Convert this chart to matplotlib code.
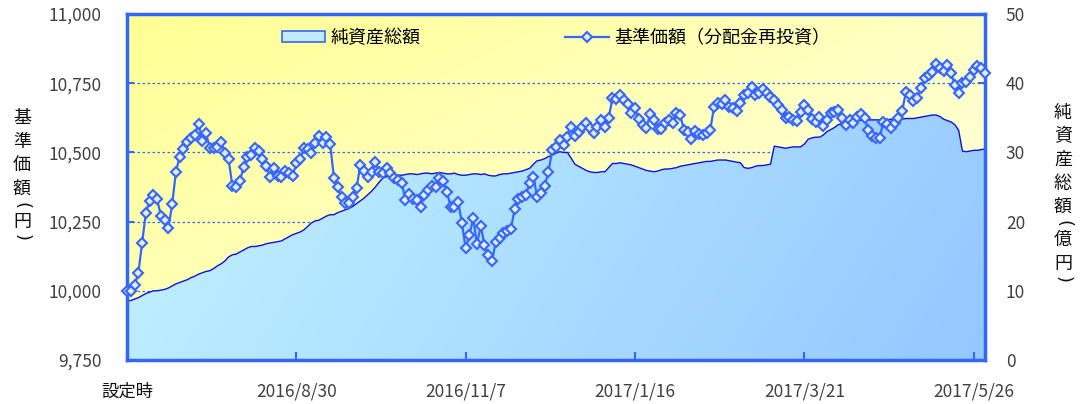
import numpy as np
import matplotlib
matplotlib.use("Agg")
import matplotlib.pyplot as plt
from matplotlib.lines import Line2D
from matplotlib.patches import Patch

plt.rcParams['font.family'] = ['Noto Sans CJK JP', 'DejaVu Sans']

# 基準価額（分配金再投資）, 円
kijun = [
    10000, 10000, 10021, 10063, 10172, 10280, 10326, 10346, 10331, 10270,
    10256, 10228, 10312, 10430, 10485, 10511, 10539, 10551, 10563, 10603,
    10542, 10569, 10515, 10515, 10520, 10539, 10497, 10475, 10379, 10374,
    10397, 10448, 10485, 10491, 10515, 10506, 10475, 10451, 10412, 10442,
    10415, 10410, 10434, 10427, 10415, 10461, 10475, 10515, 10511, 10497,
    10533, 10559, 10533, 10557, 10530, 10406, 10376, 10338, 10318, 10316,
    10338, 10370, 10455, 10434, 10410, 10430, 10464, 10430, 10424, 10442,
    10424, 10406, 10400, 10391, 10328, 10350, 10331, 10328, 10302, 10346,
    10364, 10379, 10374, 10406, 10398, 10358, 10304, 10304, 10322, 10244,
    10153, 10202, 10262, 10169, 10234, 10165, 10129, 10109, 10177, 10190,
    10210, 10217, 10222, 10295, 10331, 10338, 10346, 10391, 10412, 10338,
    10352, 10379, 10430, 10509, 10521, 10545, 10527, 10557, 10591, 10559,
    10575, 10593, 10605, 10587, 10571, 10591, 10617, 10593, 10625, 10695,
    10692, 10707, 10689, 10675, 10641, 10659, 10620, 10599, 10587, 10639,
    10617, 10583, 10583, 10605, 10617, 10605, 10641, 10635, 10581, 10575,
    10548, 10579, 10567, 10563, 10569, 10581, 10665, 10677, 10675, 10689,
    10665, 10659, 10651, 10677, 10707, 10716, 10735, 10707, 10716, 10730,
    10713, 10701, 10689, 10671, 10653, 10623, 10629, 10617, 10615, 10647,
    10671, 10653, 10620, 10611, 10629, 10595, 10617, 10641, 10647, 10653,
    10623, 10599, 10617, 10607, 10629, 10639, 10623, 10581, 10559, 10551,
    10553, 10611, 10603, 10587, 10607, 10623, 10651, 10719, 10707, 10687,
    10695, 10731, 10768, 10780, 10792, 10819, 10804, 10795, 10816, 10786,
    10744, 10716, 10750, 10756, 10774, 10798, 10812, 10804, 10788,
]

# 純資産総額, 億円
junshisan = [
    8.5, 8.6, 8.8, 9.0, 9.3, 9.6, 9.8, 10.0, 10.0, 10.1,
    10.2, 10.4, 10.7, 11.0, 11.2, 11.4, 11.6, 11.9, 12.1, 12.4,
    12.6, 12.8, 12.9, 13.2, 13.6, 13.9, 14.3, 14.9, 15.2, 15.3,
    15.6, 15.9, 16.2, 16.4, 16.4, 16.5, 16.6, 16.8, 16.9, 17.0,
    17.1, 17.2, 17.5, 17.8, 18.1, 18.3, 18.5, 18.8, 19.3, 19.8,
    20.1, 20.2, 20.5, 20.8, 21.0, 21.0, 21.3, 21.5, 21.7, 21.9,
    22.2, 22.6, 23.0, 23.4, 23.9, 24.4, 25.0, 25.7, 26.3, 26.5,
    26.7, 26.8, 26.7, 26.7, 26.8, 26.9, 26.9, 26.8, 26.9, 27.0,
    27.0, 26.9, 27.0, 27.1, 27.0, 26.9, 26.9, 27.0, 26.8, 26.7,
    26.7, 26.8, 26.9, 26.9, 26.8, 26.9, 26.7, 26.6, 26.6, 26.8,
    26.9, 26.9, 27.0, 27.1, 27.2, 27.3, 27.5, 27.7, 28.3, 28.8,
    28.9, 29.1, 29.4, 29.6, 29.9, 30.1, 30.0, 30.0, 29.2, 28.3,
    28.0, 27.7, 27.4, 27.2, 27.1, 27.1, 27.2, 27.2, 27.8, 28.4,
    28.4, 28.5, 28.4, 28.3, 28.2, 28.0, 27.8, 27.6, 27.4, 27.3,
    27.2, 27.3, 27.5, 27.6, 27.6, 27.7, 27.8, 28.0, 28.1, 28.2,
    28.3, 28.4, 28.5, 28.6, 28.7, 28.7, 28.8, 28.9, 28.9, 28.9,
    28.8, 28.7, 28.6, 28.5, 27.8, 27.7, 27.8, 28.0, 28.1, 28.1,
    28.2, 28.3, 30.9, 30.8, 30.7, 30.6, 30.7, 30.8, 30.8, 30.8,
    31.2, 31.9, 32.1, 32.2, 32.2, 32.5, 33.0, 33.3, 33.6, 34.0,
    34.2, 34.5, 34.7, 34.7, 34.7, 34.6, 34.7, 34.7, 34.7, 34.7,
    34.7, 34.7, 34.7, 34.8, 34.7, 34.8, 34.8, 34.9, 34.9, 34.9,
    35.0, 35.1, 35.2, 35.3, 35.4, 35.4, 35.2, 34.8, 34.6, 34.4,
    34.0, 33.2, 30.2, 30.1, 30.2, 30.3, 30.3, 30.4, 30.5,
]

tick_pos = [0, 45, 90, 135, 180, 225]
tick_labels = ['設定時', '2016/8/30', '2016/11/7', '2017/1/16', '2017/3/21', '2017/5/26']
left_ticks = [9750, 10000, 10250, 10500, 10750, 11000]
right_ticks = [0, 10, 20, 30, 40, 50]
left_title = '基準価額(円)'
right_title = '純資産総額(億円)'

BLUE = '#3366FF'
GRAY = '#404040'

x = np.arange(len(kijun))

fig = plt.figure(figsize=(10.81, 4.04), dpi=100)
axp = fig.add_axes([127/1081, 1-360/404, (985-127)/1081, (360-14)/404])
axn = axp.twinx()
axn.set_zorder(axp.get_zorder() - 1)
axp.patch.set_visible(False)

x0, x1 = 0, len(kijun) - 1

# yellow background gradient
gx, gy = np.meshgrid(np.linspace(0, 1, 200), np.linspace(1, 0, 100))
t = 0.55 * gx + 0.45 * (1 - gy)
bg = np.dstack([np.ones_like(t), np.ones_like(t), (148 + 85 * t) / 255])
axn.imshow(bg, extent=[0, 1, 0, 1], transform=axn.transAxes, aspect='auto',
           zorder=0, interpolation='bilinear')

# blue area with gradient
poly = axn.fill_between(x, junshisan, 0, facecolor='none', edgecolor='none')
tb = 0.8 * gx + 0.2 * (1 - gy)
area = np.dstack([(198 - 50 * tb) / 255, (245 - 45 * tb) / 255, np.ones_like(tb)])
img = axn.imshow(area, extent=[x0, x1, 0, 50], aspect='auto', zorder=2,
                 interpolation='bilinear')
img.set_clip_path(poly.get_paths()[0], transform=axn.transData)
axn.plot(x, junshisan, color='#1010DD', lw=1.0, zorder=3)

axn.set_ylim(0, 50)
axn.set_yticks(right_ticks)
axn.set_axisbelow(True)
axn.grid(axis='y', color=BLUE, linestyle=(0, (2, 2)), lw=0.9)
axn.tick_params(axis='y', direction='in', length=5, width=1.5, color=BLUE,
                labelcolor=GRAY, labelsize=12.5, pad=15)
for s in axn.spines.values():
    s.set_visible(False)

# price line
axp.plot(x, kijun, color=BLUE, lw=1.6, marker='D', ms=5.4, mfc='#E4EAFF',
         mec=BLUE, mew=1.5, zorder=5, clip_on=False)
axp.set_xlim(x0, x1)
axn.set_xlim(x0, x1)
axp.set_ylim(9750, 11000)
axp.set_yticks(left_ticks, [f'{v:,}' for v in left_ticks])
axp.set_xticks(tick_pos, tick_labels)
axp.tick_params(axis='y', direction='in', length=5, width=1.5, color=BLUE,
                labelcolor=GRAY, labelsize=12.5, pad=18)
axp.tick_params(axis='x', direction='in', length=6, width=1.5, color=BLUE,
                labelcolor=GRAY, labelsize=12.5, pad=16)
axp.get_xticklabels()[0].set_color('#111111')
for s in axp.spines.values():
    s.set_color(BLUE)
    s.set_linewidth(2.5)

# legend
handles = [Patch(facecolor='#C4EAFF', edgecolor=BLUE, lw=1.2),
           Line2D([], [], color=BLUE, lw=1.6, marker='D', ms=5.4, mfc='#E4EAFF',
                  mec=BLUE, mew=1.5)]
axp.legend(handles, ['純資産総額', '基準価額（分配金再投資）'], loc='upper left',
           bbox_to_anchor=(282/1081, 1-29/404), bbox_transform=fig.transFigure,
           ncol=2, frameon=False, handlelength=2.4, handleheight=0.6,
           handletextpad=0.3, columnspacing=8.0, borderpad=0, borderaxespad=0,
           fontsize=13)


# vertical axis titles, one glyph at a time (brackets turned sideways)
def vertical_title(xc, y_top, text):
    y = y_top
    prev = None
    for ch in text:
        if prev is not None:
            y += 23.5 if (ch not in '()' and prev not in '()') else 16.5
        if ch in '()':
            fig.text(xc/1081, 1-y/404, ch, ha='center', va='center',
                     fontsize=13, rotation=-90, color='#111111',
                     family='DejaVu Sans')
        else:
            fig.text(xc/1081, 1-y/404, ch, ha='center', va='center',
                     fontsize=13, color='#111111')
        prev = ch


vertical_title(22, 118, left_title)
vertical_title(1063, 113, right_title)

fig.savefig('out.png', dpi=100)
